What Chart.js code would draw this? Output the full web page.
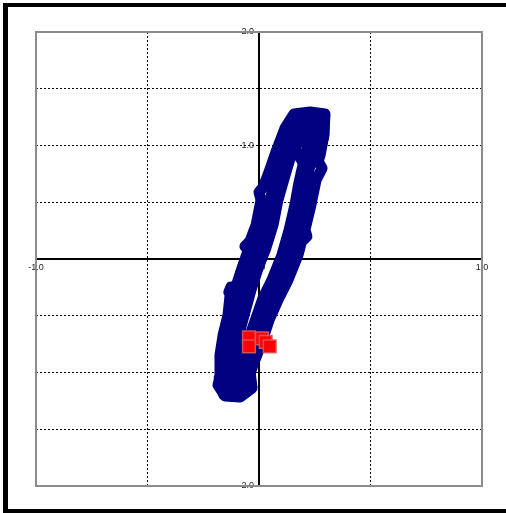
<!DOCTYPE html>
<html>
<head>
<meta charset="utf-8">
<script src="https://cdn.jsdelivr.net/npm/chart.js@4"></script>
<style>
  html, body { margin: 0; padding: 0; background: #fff; overflow: hidden; }
  #frame { position: absolute; left: 3px; top: 3px; width: 520px; height: 510px; box-sizing: border-box;
           border-left: 5px solid #000; border-top: 4px solid #000; border-bottom: 4px solid #000; }
  #wrap { position: absolute; left: 0; top: 0; width: 506px; height: 513px; }
</style>
</head>
<body>
<div id="frame"></div>
<div id="wrap"><canvas id="myChart"></canvas></div>
<script>
// loop traced several times (middle, outer and inner pass of the band, plus the two end knots)
const loopMidX = [-0.121, -0.139, -0.135, -0.126, -0.103, -0.072, -0.040, -0.004, 0.027, 0.049, 0.081, 0.112, 0.148, 0.175, 0.229, 0.274, 0.256, 0.238, 0.215, 0.197, 0.170, 0.139, 0.094, 0.049, 0.013, -0.013, -0.063, -0.094, -0.121];
const loopMidY = [-1.172, -1.022, -0.846, -0.670, -0.493, -0.273, -0.079, 0.097, 0.300, 0.520, 0.740, 0.943, 1.137, 1.242, 1.260, 1.242, 1.093, 0.916, 0.696, 0.476, 0.256, 0.035, -0.185, -0.361, -0.537, -0.714, -0.890, -1.066, -1.172];

const loopOuterX = [-0.157, -0.179, -0.175, -0.161, -0.139, -0.126, -0.135, -0.117, -0.108, -0.076, -0.045, -0.063, -0.040, -0.013, 0.009, 0.000, 0.018, 0.040, 0.076, 0.117, 0.157, 0.229, 0.296, 0.291, 0.274, 0.265, 0.283, 0.256, 0.233, 0.206, 0.215, 0.190, 0.175, 0.130, 0.085, 0.045, 0.013, -0.027, -0.058, -0.103, -0.157];
const loopOuterY = [-1.198, -1.048, -0.846, -0.670, -0.493, -0.247, -0.291, -0.317, -0.273, -0.079, 0.097, 0.110, 0.160, 0.300, 0.520, 0.590, 0.630, 0.740, 0.943, 1.154, 1.278, 1.295, 1.278, 1.093, 0.916, 0.860, 0.800, 0.696, 0.476, 0.256, 0.200, 0.150, 0.035, -0.185, -0.361, -0.537, -0.731, -0.934, -1.110, -1.207, -1.198];

const loopInnerX = [-0.094, -0.103, -0.099, -0.085, -0.063, -0.036, -0.004, 0.031, 0.063, 0.085, 0.117, 0.148, 0.175, 0.206, 0.242, 0.224, 0.202, 0.179, 0.161, 0.135, 0.103, 0.058, 0.018, -0.013, -0.040, -0.085, -0.103, -0.094];
const loopInnerY = [-1.110, -0.978, -0.802, -0.626, -0.467, -0.273, -0.079, 0.097, 0.300, 0.520, 0.740, 0.943, 1.093, 1.181, 1.181, 1.048, 0.872, 0.670, 0.476, 0.256, 0.035, -0.185, -0.344, -0.520, -0.670, -0.890, -1.048, -1.110];

const topKnotX = [0.148, 0.175, 0.238, 0.291, 0.291, 0.265, 0.206, 0.161, 0.184, 0.251];
const topKnotY = [1.154, 1.260, 1.278, 1.251, 1.093, 0.872, 0.828, 0.960, 1.093, 1.137];

const bottomKnotX = [-0.166, -0.184, -0.152, -0.085, -0.031, -0.040, -0.094, -0.152];
const bottomKnotY = [-0.978, -1.110, -1.207, -1.216, -1.137, -0.996, -0.934, -0.996];

// red markers
const markX = [-0.045, 0.013, 0.030, 0.048, -0.045];
const markY = [-0.69, -0.70, -0.73, -0.77, -0.77];

const xMin = -1, xMax = 1, xStep = 0.5;
const yMin = -2, yMax = 2, yStep = 0.5;

function toPoints(xs, ys) {
  return xs.map((x, i) => ({ x: x, y: ys[i] }));
}

function loopSet(xs, ys) {
  return {
    data: toPoints(xs, ys),
    showLine: true,
    borderColor: "#000080",
    borderWidth: 11,
    tension: 0,
    pointRadius: 0,
    borderCapStyle: "round",
    borderJoinStyle: "round",
  };
}

// grey frame round the plot area
const plotFrame = {
  id: "plotFrame",
  afterDraw(chart) {
    const a = chart.chartArea;
    const c = chart.ctx;
    c.save();
    c.strokeStyle = "#8c8c8c";
    c.lineWidth = 2;
    c.strokeRect(a.left, a.top, a.right - a.left, a.bottom - a.top);
    c.restore();
  },
};

function gridColor(ctx, lo, hi) {
  const v = ctx.tick ? ctx.tick.value : null;
  if (v === lo || v === hi) return "rgba(0,0,0,0)";
  return "#000";
}

const ctx = document.getElementById("myChart").getContext("2d");
const chart = new Chart(ctx, {
  type: "scatter",
  data: {
    datasets: [
      {
        data: toPoints(markX, markY),
        pointStyle: "rect",
        pointRadius: 9,
        backgroundColor: "#ff0000",
        borderColor: "rgba(215,90,90,0.9)",
        borderWidth: 1.5,
      },
      loopSet(loopInnerX, loopInnerY),
      loopSet(loopMidX, loopMidY),
      loopSet(loopOuterX, loopOuterY),
      loopSet(topKnotX, topKnotY),
      loopSet(bottomKnotX, bottomKnotY),
    ],
  },
  options: {
    responsive: true,
    maintainAspectRatio: false,
    animation: false,
    layout: { padding: { left: 36, top: 32, right: 24, bottom: 27 } },
    plugins: { legend: { display: false }, tooltip: { enabled: false } },
    scales: {
      x: {
        type: "linear",
        min: xMin,
        max: xMax,
        position: { y: 0 },
        ticks: {
          stepSize: xStep,
          autoSkip: false,
          maxRotation: 0,
          color: "#222",
          font: { family: "Liberation Sans", size: 9 },
          callback: (v) => (Number.isInteger(v) ? v.toFixed(1) : ""),
        },
        grid: { color: (c) => gridColor(c, xMin, xMax), lineWidth: 1, drawTicks: false },
        border: { display: true, color: "#000", width: 2, dash: [2, 2] },
      },
      y: {
        type: "linear",
        min: yMin,
        max: yMax,
        position: { x: 0 },
        ticks: {
          stepSize: yStep,
          autoSkip: false,
          color: "#222",
          font: { family: "Liberation Sans", size: 9 },
          callback: (v) => (Number.isInteger(v) ? v.toFixed(1) + "  " : ""),
        },
        grid: { color: (c) => gridColor(c, yMin, yMax), lineWidth: 1, drawTicks: false },
        border: { display: true, color: "#000", width: 2, dash: [2, 2] },
      },
    },
  },
  plugins: [plotFrame],
});
</script>
</body>
</html>
